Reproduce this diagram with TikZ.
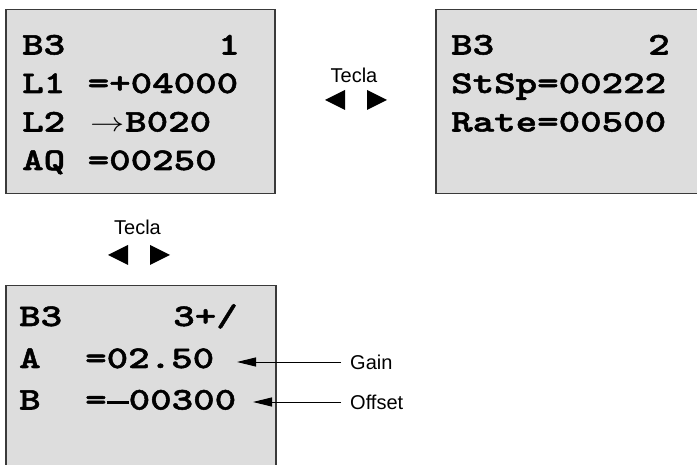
\documentclass[tikz,border=0pt]{standalone}
\usepackage{fontspec}
\setmainfont{Liberation Sans}
\newfontfamily\lcdfont{lmmonolt10-bold.otf}[FakeStretch=1.3,FakeBold=1.6]
\usetikzlibrary{arrows.meta}
\definecolor{lcdfill}{HTML}{DDDDDD}
\definecolor{lcdedge}{HTML}{3A3A3A}
\tikzset{
  lcdbox/.style={draw=lcdedge, line width=1.5pt, fill=lcdfill, anchor=north west, inner sep=0pt},
  lcdtxt/.style={inner sep=0pt, anchor=base west, font=\lcdfont\fontsize{31.5}{34}\selectfont},
  lcdtxtr/.style={lcdtxt, anchor=base east},
  keytxt/.style={inner sep=0pt, anchor=base, font=\fontsize{20}{22}\selectfont},
  lbltxt/.style={inner xsep=9pt, inner ysep=0pt, anchor=west, font=\fontsize{20}{22}\selectfont},
  keytri/.style={fill=black},
  callout/.style={draw=black, line width=0.9pt, -{Triangle[length=19pt,width=9pt]}}
}
\begin{document}
\begin{tikzpicture}[x=1pt,y=-1pt]
\clip (0,0) rectangle (697,465);
\fill[white] (0,0) rectangle (697,465);
% boxes
\node[lcdbox, minimum width=269pt, minimum height=184pt] (b1) at (5,9) {};
\node[lcdbox, minimum width=290pt, minimum height=184pt] (b2) at (435,9) {};
\node[lcdbox, minimum width=270pt, minimum height=200pt] (b3) at (5,285) {};
% box 1 text
\node[lcdtxt] (b1r1a) at (22,54.5) {B3};
\node[lcdtxtr] (b1r1b) at (240,54.5) {1};
\node[lcdtxt] (b1r2a) at (22,93) {L1};
\node[lcdtxt] (b1r2b) at (87.5,93) {=+04000};
\node[lcdtxt] (b1r3a) at (22,131.5) {L2};
\node[inner sep=0pt, anchor=base west, font=\fontsize{20}{20}\selectfont] (b1r3arr) at (90,131.5) {\scalebox{1.65}[1.3]{$\rightarrow$}};
\node[lcdtxt] (b1r3b) at (125,131.5) {B020};
\node[lcdtxt] (b1r4a) at (22,170) {AQ};
\node[lcdtxt] (b1r4b) at (87.5,170) {=00250};
% box 2 text
\node[lcdtxt] (b2r1a) at (451,54.5) {B3};
\node[lcdtxtr] (b2r1b) at (670,54.5) {2};
\node[lcdtxt] (b2r2) at (451,93) {StSp=00222};
\node[lcdtxt] (b2r3) at (451,131.5) {Rate=00500};
% box 3 text
\node[lcdtxt] (b3r1a) at (19,326) {B3};
\node[lcdtxtr] (b3r1b) at (238,326) {3+/};
\node[lcdtxt] (b3r2a) at (19,368) {A};
\node[lcdtxt] (b3r2b) at (85,368) {=02.50};
\node[lcdtxt] (b3r3a) at (19,409.5) {B};
\node[lcdtxt] (b3r3b) at (85,409.5) {=\rule[5pt]{22pt}{3pt}00300};
% keys
\node[keytxt] (key1) at (354,83) {Tecla};
\fill[keytri] (325,100) -- (345,90) -- (345,110) -- cycle;
\fill[keytri] (387,100) -- (367,90) -- (367,110) -- cycle;
\node[keytxt] (key2) at (137.5,235) {Tecla};
\fill[keytri] (108,255) -- (128,245) -- (128,265) -- cycle;
\fill[keytri] (170,255) -- (150,245) -- (150,265) -- cycle;
% callouts
\node[lbltxt] (gain) at (341,362) {Gain};
\node[lbltxt] (offset) at (341,402) {Offset};
\coordinate (gaintip) at (237,362);
\coordinate (offtip) at (253,402);
\draw[callout] (gain.west) -- (gaintip);
\draw[callout] (offset.west) -- (offtip);
\end{tikzpicture}
\end{document}
